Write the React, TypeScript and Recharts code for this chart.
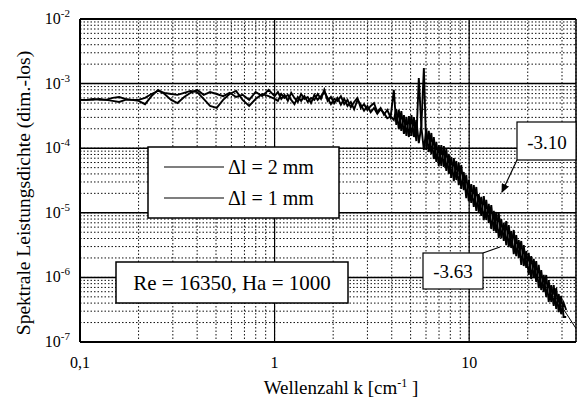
import React from "react";
import { LineChart, Line, XAxis, YAxis, CartesianGrid, ReferenceLine } from "recharts";

// Wavenumber k [1/cm]
const kValues = [
  0.1, 0.108, 0.117, 0.126, 0.136, 0.147, 0.159, 0.171, 0.185, 0.2,
  0.216, 0.233, 0.252, 0.272, 0.294, 0.317, 0.343, 0.37, 0.4, 0.432,
  0.466, 0.504, 0.544, 0.587, 0.634, 0.685, 0.74, 0.799, 0.863, 0.932,
  1.0, 1.04, 1.082, 1.125, 1.17, 1.217, 1.265, 1.316, 1.369, 1.423,
  1.48, 1.539, 1.601, 1.665, 1.732, 1.801, 1.873, 1.948, 2.026, 2.107,
  2.191, 2.279, 2.37, 2.465, 2.563, 2.666, 2.772, 2.883, 2.999, 3.119,
  3.243, 3.373, 3.508, 3.648, 3.794, 3.946,
  4.1, 4.22, 4.35, 4.48, 4.62, 4.76, 4.9, 5.05, 5.2, 5.35,
  5.51, 5.68, 5.85, 6.02, 6.2, 6.39, 6.58, 6.78, 6.98, 7.19,
  7.41, 7.63, 7.86, 8.09, 8.34, 8.59, 8.84, 9.11, 9.38, 9.66,
  9.95, 10.25, 10.56, 10.88, 11.2, 11.54, 11.89, 12.24, 12.61, 12.99,
  13.38, 13.78, 14.19, 14.62, 15.06, 15.51, 15.97, 16.45, 16.95, 17.45,
  17.98, 18.52, 19.07, 19.65, 20.23, 20.84, 21.47, 22.11, 22.77, 23.46,
  24.16, 24.89, 25.63, 26.4, 27.19, 28.01, 28.85, 29.71, 30.6, 31.52,
];

// Δl = 2 mm
const series2mm = [
  5.6e-4, 5.6e-4, 5.6e-4, 5.8e-4, 5.6e-4, 6.0e-4, 6.2e-4, 5.8e-4, 5.6e-4, 5.4e-4,
  4.8e-4, 6.4e-4, 8.0e-4, 6.9e-4, 5.6e-4, 5.0e-4, 6.2e-4, 7.2e-4, 8.0e-4, 6.7e-4,
  7.4e-4, 6.9e-4, 6.4e-4, 7.2e-4, 6.2e-4, 6.7e-4, 5.6e-4, 7.4e-4, 6.4e-4, 8.0e-4,
  6.4e-4, 7.4e-4, 5.8e-4, 6.7e-4, 5.4e-4, 7.2e-4, 6.0e-4, 5.2e-4, 6.9e-4, 5.8e-4,
  6.2e-4, 5.0e-4, 6.7e-4, 5.6e-4, 6.4e-4, 7.4e-4, 6.0e-4, 4.8e-4, 5.8e-4, 5.4e-4,
  6.4e-4, 4.8e-4, 5.6e-4, 4.3e-4, 5.2e-4, 6.0e-4, 4.2e-4, 4.8e-4, 3.9e-4, 4.5e-4,
  5.0e-4, 3.6e-4, 4.2e-4, 3.3e-4, 3.9e-4, 3.0e-4,
  8.0e-4, 2.29e-4, 3.9e-4, 1.85e-4, 3.26e-4, 1.545e-4, 3.15e-4, 1.545e-4, 3.04e-4, 1.29e-4,
  1.22e-3, 2.13e-4, 9.38e-5, 1.98e-4, 8.73e-5, 1.72e-4, 6.8e-5, 1.25e-4, 5.3e-5, 1.12e-4,
  5.12e-5, 9.72e-5, 3.99e-5, 7.31e-5, 3.1e-5, 6.34e-5, 2.69e-5, 5.5e-5, 2.25e-5, 3.85e-5,
  1.52e-5, 2.79e-5, 1.23e-5, 2.51e-5, 1.03e-5, 1.76e-5, 7.73e-6, 1.58e-5, 6.95e-6, 1.32e-5,
  5.23e-6, 1.03e-5, 4.07e-6, 8.02e-6, 3.66e-6, 7.46e-6, 2.95e-6, 5.23e-6, 2.3e-6, 4.53e-6,
  2.0e-6, 3.66e-6, 1.5e-6, 2.56e-6, 1.09e-6, 2.14e-6, 9.79e-7, 1.79e-6, 6.85e-7, 1.3e-6,
  5.94e-7, 1.09e-6, 4.16e-7, 7.62e-7, 3.61e-7, 6.85e-7, 2.91e-7, 5.15e-7, 2.44e-7, 2.44e-7,
];

// Δl = 1 mm
const series1mm = [
  5.6e-4, 5.6e-4, 5.8e-4, 5.6e-4, 5.6e-4, 5.4e-4, 5.2e-4, 5.6e-4, 5.6e-4, 5.6e-4,
  6.0e-4, 6.9e-4, 7.7e-4, 7.2e-4, 6.9e-4, 6.7e-4, 7.2e-4, 7.7e-4, 7.4e-4, 5.8e-4,
  4.5e-4, 4.2e-4, 5.6e-4, 6.9e-4, 7.7e-4, 5.6e-4, 4.5e-4, 5.8e-4, 6.9e-4, 6.4e-4,
  5.8e-4, 5.4e-4, 6.9e-4, 6.0e-4, 6.7e-4, 5.6e-4, 4.8e-4, 6.2e-4, 5.4e-4, 6.4e-4,
  5.2e-4, 6.0e-4, 5.6e-4, 6.9e-4, 5.8e-4, 8.0e-4, 5.4e-4, 6.2e-4, 5.0e-4, 6.0e-4,
  4.7e-4, 5.8e-4, 4.5e-4, 5.2e-4, 4.0e-4, 5.6e-4, 4.7e-4, 3.8e-4, 4.5e-4, 3.6e-4,
  4.2e-4, 3.4e-4, 4.0e-4, 3.5e-4, 2.9e-4, 3.1e-4,
  2.73e-4, 4.04e-4, 1.98e-4, 3.76e-4, 1.66e-4, 3.04e-4, 1.49e-4, 3.26e-4, 1.49e-4, 2.73e-4,
  1.2e-4, 2.21e-4, 1.74e-3, 9.38e-5, 1.85e-4, 8.13e-5, 1.49e-4, 6.12e-5, 1.12e-4, 5.3e-5,
  1.08e-4, 4.44e-5, 8.13e-5, 3.46e-5, 7.05e-5, 3.22e-5, 5.9e-5, 2.34e-5, 4.28e-5, 1.69e-5,
  3.22e-5, 1.42e-5, 2.69e-5, 1.07e-5, 1.95e-5, 8.92e-6, 1.82e-5, 7.73e-6, 1.37e-5, 5.61e-6,
  1.07e-5, 4.87e-6, 9.93e-6, 4.07e-6, 6.95e-6, 3.17e-6, 6.47e-6, 2.85e-6, 5.42e-6, 2.14e-6,
  3.79e-6, 1.56e-6, 3.17e-6, 1.4e-6, 2.39e-6, 9.44e-7, 1.93e-6, 8.49e-7, 1.56e-6, 6.38e-7,
  1.09e-6, 4.97e-7, 9.11e-7, 4.16e-7, 7.62e-7, 3.24e-7, 5.53e-7, 2.71e-7, 4.02e-7, 3.13e-7,
];

// fitted power law (slope -3.63)
const fitK = [20, 36];
const fitValues = [2.3e-6, 1.5e-7];

const xDecades = [0.1, 1, 10];
const xTickLabels = ["0,1", "1", "10"];
const yDecadeExponents = [-7, -6, -5, -4, -3, -2];
const minorMultipliers = [2, 3, 4, 5, 6, 7, 8, 9];

const X_DOMAIN: [number, number] = [0.1, 35.4];
const Y_DOMAIN: [number, number] = [1e-7, 1e-2];

const rows = kValues.map((k, i) => ({ k, a: series2mm[i], b: series1mm[i] }));
const fitRows = fitK.map((k, i) => ({ k, fit: fitValues[i] }));

const xTicks: number[] = [];
xDecades.forEach((d) => {
  xTicks.push(d);
  minorMultipliers.forEach((m) => {
    const v = d * m;
    if (v <= X_DOMAIN[1]) xTicks.push(v);
  });
});
const yTicks: number[] = [];
yDecadeExponents.forEach((e) => {
  const d = Math.pow(10, e);
  yTicks.push(d);
  if (e < -2) minorMultipliers.forEach((m) => yTicks.push(d * m));
});

const FONT = "Liberation Serif, Times New Roman, DejaVu Serif, serif";
const fontStyle = { fontFamily: FONT };

const isDecade = (v: number) => {
  const l = Math.log10(v);
  return Math.abs(l - Math.round(l)) < 1e-6;
};

const XTick = (props: any) => {
  const { x, y, payload } = props;
  const v = payload.value;
  if (!isDecade(v)) return <g />;
  const idx = xDecades.findIndex((d) => Math.abs(d - v) / d < 1e-6);
  return (
    <text x={x} y={y + 18} textAnchor="middle" style={fontStyle} fontSize={16} fill="#000">
      {xTickLabels[idx]}
    </text>
  );
};

const YTick = (props: any) => {
  const { x, y, payload } = props;
  const v = payload.value;
  if (!isDecade(v)) return <g />;
  const e = Math.round(Math.log10(v));
  return (
    <text x={x - 2} y={y + 5} textAnchor="end" style={fontStyle} fontSize={16} fill="#000">
      10
      <tspan dy={-7} fontSize={11}>
        {String(e)}
      </tspan>
    </text>
  );
};

export default function App() {
  return (
    <div style={{ position: "absolute", left: 0, top: 0, width: 577, height: 402, background: "#fff" }}>
      <LineChart width={577} height={402} data={rows} margin={{ top: 19, right: 1, bottom: 0, left: 0 }}>
        <CartesianGrid stroke="#111" strokeDasharray="1.5 2" strokeWidth={1} />
        <XAxis
          dataKey="k"
          type="number"
          scale="log"
          domain={X_DOMAIN}
          allowDataOverflow
          ticks={xTicks}
          interval={0}
          tick={<XTick />}
          tickLine={false}
          axisLine={{ stroke: "#000", strokeWidth: 2 }}
          height={60}
        />
        <YAxis
          type="number"
          scale="log"
          domain={Y_DOMAIN}
          allowDataOverflow
          ticks={yTicks}
          interval={0}
          tick={<YTick />}
          tickLine={false}
          axisLine={{ stroke: "#000", strokeWidth: 2 }}
          width={80}
        />
        {[1, 10].map((v) => (
          <ReferenceLine key={"x" + v} x={v} stroke="#000" strokeWidth={1.2} />
        ))}
        {yDecadeExponents.slice(1, 5).map((e) => (
          <ReferenceLine key={"y" + e} y={Math.pow(10, e)} stroke="#000" strokeWidth={1.5} />
        ))}
        <ReferenceLine y={Y_DOMAIN[1]} stroke="#000" strokeWidth={2} />
        <ReferenceLine x={X_DOMAIN[1]} stroke="#000" strokeWidth={1.5} />
        <Line dataKey="a" stroke="#000" strokeWidth={1.9} dot={false} isAnimationActive={false} />
        <Line dataKey="b" stroke="#000" strokeWidth={1.9} dot={false} isAnimationActive={false} />
        <Line data={fitRows} dataKey="fit" stroke="#000" strokeWidth={1} dot={false} isAnimationActive={false} />
      </LineChart>
      <svg
        width={577}
        height={402}
        style={{ position: "absolute", left: 0, top: 0, pointerEvents: "none", fontFamily: FONT }}
      >
        <defs>
          <marker id="ah" markerWidth="9" markerHeight="8" refX="8" refY="4" orient="auto" markerUnits="userSpaceOnUse">
            <path d="M0,0 L9,4 L0,8 z" fill="#000" />
          </marker>
        </defs>
        <text transform="translate(30,193) rotate(-90)" textAnchor="middle" fontSize={19.5} fill="#000">
          Spektrale Leistungsdichte (dim.-los)
        </text>
        <text x={341} y={394} textAnchor="middle" fontSize={19} fill="#000">
          Wellenzahl k [cm
          <tspan dy={-7} fontSize={12}>-1</tspan>
          <tspan dy={7}> ]</tspan>
        </text>
        <rect x={148} y={147} width={191} height={71} fill="#fff" stroke="#000" strokeWidth={1.5} />
        <line x1={164} y1={167} x2={224} y2={167} stroke="#000" strokeWidth={1.2} />
        <text x={228} y={174} fontSize={20} fill="#000">Δl = 2 mm</text>
        <line x1={164} y1={198} x2={224} y2={198} stroke="#000" strokeWidth={1.2} />
        <text x={228} y={205} fontSize={20} fill="#000">Δl = 1 mm</text>
        <rect x={116} y={262} width={232} height={41} fill="#fff" stroke="#000" strokeWidth={1.5} />
        <text x={232} y={290} textAnchor="middle" fontSize={21} fill="#000">Re = 16350, Ha = 1000</text>
        <rect x={517} y={122} width={59} height={38} fill="#fff" stroke="#000" strokeWidth={1.2} />
        <text x={547} y={149} textAnchor="middle" fontSize={19} fill="#000">-3.10</text>
        <line x1={517} y1={160} x2={502} y2={192} stroke="#000" strokeWidth={1.2} markerEnd="url(#ah)" />
        <rect x={423} y={253} width={60} height={36} fill="#fff" stroke="#000" strokeWidth={1.2} />
        <text x={453} y={278} textAnchor="middle" fontSize={19} fill="#000">-3.63</text>
        <line x1={483} y1={253} x2={500} y2={247} stroke="#000" strokeWidth={1.2} />
      </svg>
    </div>
  );
}
